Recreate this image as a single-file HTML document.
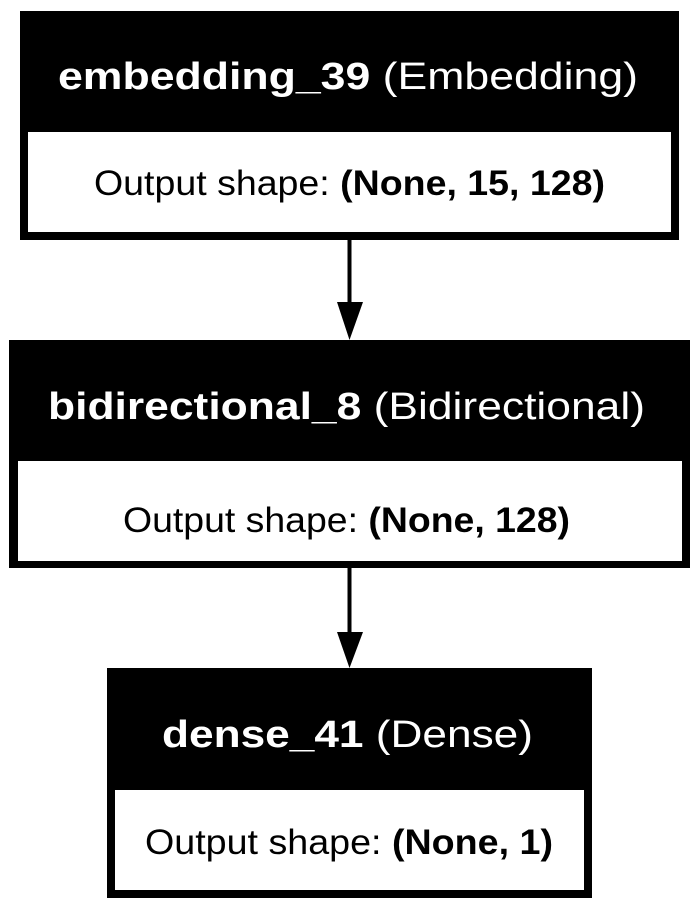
<!DOCTYPE html>
<html><head><style>html,body{margin:0;padding:0;background:#fff}svg{display:block}</style></head>
<body>
<svg width="697" height="910" viewBox="0 0 697 910" xmlns="http://www.w3.org/2000/svg" font-family="Liberation Sans, sans-serif">
<rect x="0" y="0" width="697" height="910" fill="#fff"/>
<!-- Box 1 -->
<rect x="20" y="11" width="659" height="229" fill="#000"/>
<rect x="28" y="132" width="643" height="100" fill="#fff"/>
<text x="58" y="89" font-size="38" fill="#fff" textLength="580" lengthAdjust="spacingAndGlyphs"><tspan font-weight="bold">embedding_39</tspan> (Embedding)</text>
<text x="94" y="195" font-size="35" fill="#000" textLength="511" lengthAdjust="spacingAndGlyphs">Output shape: <tspan font-weight="bold">(None, 15, 128)</tspan></text>
<!-- Arrow 1 -->
<line x1="349.5" y1="240" x2="349.5" y2="304" stroke="#000" stroke-width="4"/>
<polygon points="337,302 363,302 349.5,340" fill="#000"/>
<!-- Box 2 -->
<rect x="9" y="340" width="681" height="228" fill="#000"/>
<rect x="18" y="461" width="664" height="100" fill="#fff"/>
<text x="48" y="419" font-size="38" fill="#fff" textLength="597" lengthAdjust="spacingAndGlyphs"><tspan font-weight="bold">bidirectional_8</tspan> (Bidirectional)</text>
<text x="123" y="532" font-size="35" fill="#000" textLength="447" lengthAdjust="spacingAndGlyphs">Output shape: <tspan font-weight="bold">(None, 128)</tspan></text>
<!-- Arrow 2 -->
<line x1="349.5" y1="568" x2="349.5" y2="634" stroke="#000" stroke-width="4"/>
<polygon points="337,632 363,632 349.5,668" fill="#000"/>
<!-- Box 3 -->
<rect x="107" y="668" width="485" height="230" fill="#000"/>
<rect x="115" y="790" width="469" height="100" fill="#fff"/>
<text x="162" y="747" font-size="38" fill="#fff" textLength="371" lengthAdjust="spacingAndGlyphs"><tspan font-weight="bold">dense_41</tspan> (Dense)</text>
<text x="145" y="854" font-size="35" fill="#000" textLength="408" lengthAdjust="spacingAndGlyphs">Output shape: <tspan font-weight="bold">(None, 1)</tspan></text>
</svg>
</body></html>
